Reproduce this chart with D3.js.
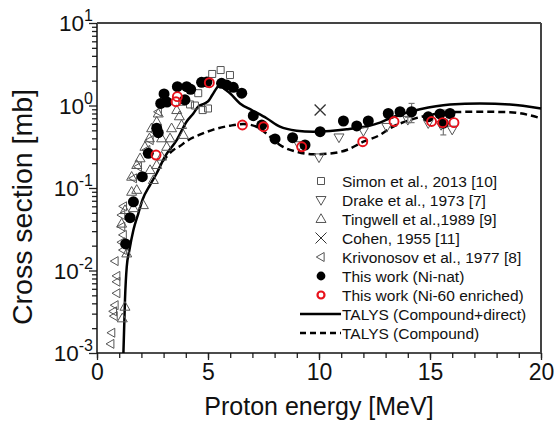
<!DOCTYPE html>
<html>
<head>
    <style>
        body { margin: 0; background: #fff; }
        svg { font-family: "Liberation Sans", Arial, sans-serif; }
    </style>
</head>
<body>
<script src="https://d3js.org/d3.v7.min.js"></script>
<svg width="554" height="423"></svg>
<script>
    // Simon et al., 2013 [10]
    var simonE = [3.84, 4.19, 4.41, 4.56, 4.76, 5.0, 5.19, 5.57, 5.99];
    var simonV = [1.11, 1.03, 1.0, 1.41, 0.88, 0.92, 2.41, 2.69, 2.34];
    // Drake et al., 1973 [7]
    var drakeE = [9.1, 10.0, 10.9, 12.0, 13.05, 14.0, 14.92, 15.5, 16.0];
    var drakeV = [0.33, 0.235, 0.41, 0.49, 0.55, 0.67, 0.61, 0.58, 0.51];
    // Tingwell et al., 1989 [9]
    var tingE = [1.11, 1.14, 1.26, 1.26, 1.34, 1.56, 1.56, 1.64, 1.79, 1.79, 1.94, 2.09, 2.16, 2.36, 2.39,
                 2.46, 2.54, 2.69, 2.69, 2.76, 2.91, 2.91, 3.14, 3.29, 3.36, 3.59, 3.71, 3.81, 3.89];
    var tingV = [0.037, 0.00263, 0.00364, 0.054, 0.0161, 0.09, 0.137, 0.057, 0.095, 0.19, 0.229, 0.062, 0.316, 0.40, 0.165,
                 0.53, 0.125, 0.636, 0.19, 0.80, 0.24, 0.40, 0.316, 0.40, 0.53, 0.88, 0.74, 0.58, 0.44];
    // Cohen, 1955 [11]
    var cohenE = [10.05];
    var cohenV = [0.88];
    // Krivonosov et al., 1977 [8]
    var krivE = [0.62, 0.66, 0.74, 0.77, 0.81, 0.81, 0.89, 0.89, 0.89, 1.11, 1.11, 1.11, 1.18, 1.18,
                 1.19, 1.64, 1.86, 2.24, 2.39, 2.61, 2.76];
    var krivV = [0.00129, 0.00176, 0.0032, 0.0028, 0.0038, 0.013, 0.0053, 0.0073, 0.0086, 0.022, 0.034, 0.047, 0.0177, 0.027,
                 0.06, 0.131, 0.181, 0.289, 0.38, 0.48, 0.84];
    // This work (Ni-nat)
    var natE = [1.29, 1.49, 1.64, 2.04, 2.31, 2.69, 2.76, 2.87, 3.02, 3.15, 3.62, 3.96, 4.04, 4.22, 4.71, 4.95,
                5.61, 5.84, 6.14, 6.52, 7.04, 7.42, 8.02, 8.81, 9.37, 10.05, 11.1, 11.7, 12.22, 13.12, 13.65,
                14.17, 14.92, 15.45, 15.6, 15.9];
    var natV = [0.021, 0.0437, 0.068, 0.137, 0.263, 0.53, 0.468, 1.06, 1.38, 1.1, 1.69, 1.17, 1.69, 1.57, 1.91, 1.93,
                1.86, 1.77, 1.66, 1.41, 0.752, 0.58, 0.393, 0.407, 0.332, 0.481, 0.649, 0.565, 0.649, 0.80, 0.84,
                0.84, 0.73, 0.79, 0.61, 0.80];
    // error bars shown on a few points
    var errE = [14.17, 15.6, 14.0];
    var errLo = [0.62, 0.44, 0.62];
    var errHi = [1.06, 0.88, 0.72];
    // This work (Ni-60 enriched)
    var redE = [2.66, 3.56, 3.62, 5.06, 6.55, 7.5, 9.22, 11.97, 13.38, 15.07, 15.57, 16.08];
    var redV = [0.251, 1.11, 1.28, 1.89, 0.58, 0.553, 0.316, 0.364, 0.64, 0.64, 0.62, 0.62];
    // TALYS (Compound+direct)
    var solidE = [1.19, 1.26, 1.34, 1.46, 1.64, 1.86, 2.05, 2.4, 2.69, 3.06, 3.59, 4.04, 4.34, 4.56, 4.86, 5.0,
                  5.2, 5.5, 5.55, 5.7, 5.99, 6.44, 6.97, 7.64, 8.24, 8.99, 9.74, 10.5, 11.25, 12.15, 12.75, 13.2,
                  14.55, 15.9, 17.25, 18.6, 20];
    var solidV = [0.001, 0.0044, 0.0111, 0.0177, 0.031, 0.049, 0.072, 0.11, 0.151, 0.24, 0.38, 0.64, 0.80, 0.97, 1.06, 1.12,
                  1.35, 1.76, 1.79, 1.62, 1.41, 1.06, 0.88, 0.70, 0.553, 0.495, 0.481, 0.49, 0.514, 0.56, 0.62, 0.70,
                  0.90, 1.03, 1.06, 1.03, 0.92];
    // TALYS (Compound)
    var dashE = [2.95, 3.44, 3.74, 4.04, 4.6, 5.24, 5.99, 6.59, 7.19, 7.79, 8.24, 9.0, 9.74, 10.5, 11.25, 12.0,
                 12.75, 13.2, 14.1, 15.0, 15.9, 17.25, 18.6, 20];
    var dashV = [0.21, 0.289, 0.323, 0.37, 0.44, 0.51, 0.569, 0.597, 0.553, 0.42, 0.332, 0.275, 0.256, 0.262, 0.289, 0.364,
                 0.44, 0.53, 0.667, 0.77, 0.83, 0.84, 0.83, 0.70];

    var xMajor = [0, 5, 10, 15, 20];
    var yMajor = [1e-3, 1e-2, 1e-1, 1, 10];
    var yExp = ["-3", "-2", "-1", "0", "1"];

    var legendLabels = ["Simon et al., 2013 [10]", "Drake et al., 1973 [7]", "Tingwell et al.,1989 [9]",
        "Cohen, 1955 [11]", "Krivonosov et al., 1977 [8]", "This work (Ni-nat)", "This work (Ni-60 enriched)",
        "TALYS (Compound+direct)", "TALYS (Compound)"];

    var svg = d3.select("svg");
    var plotL = 97, plotR = 541, plotT = 23, plotB = 353;
    var gray = "#555";

    var x = d3.scaleLinear().domain([0, 20]).range([plotL, plotR]);
    var y = d3.scaleLog().domain([1e-3, 10]).range([plotB, plotT]);

    // axes
    var minorY = [];
    yMajor.slice(0, 4).forEach(function(d) {
        for (var k = 2; k <= 9; k++) minorY.push(d * k);
    });

    svg.append("g").attr("transform", "translate(0," + plotB + ")")
        .call(d3.axisBottom(x).tickValues(d3.range(0, 21)).tickSize(5).tickFormat(""))
        .call(function(g) { g.select(".domain").remove(); });
    svg.append("g").attr("transform", "translate(0," + plotB + ")")
        .call(d3.axisBottom(x).tickValues(xMajor).tickSize(7).tickPadding(4).tickFormat(d3.format("d")))
        .call(function(g) {
            g.select(".domain").remove();
            g.selectAll("text").attr("font-size", 23).attr("fill", "#111")
                .attr("font-family", "Liberation Sans, Arial, sans-serif");
        });

    svg.append("g").attr("transform", "translate(" + plotL + ",0)")
        .call(d3.axisLeft(y).tickValues(minorY).tickSize(5).tickFormat(""))
        .call(function(g) { g.select(".domain").remove(); });
    svg.append("g").attr("transform", "translate(" + plotL + ",0)")
        .call(d3.axisLeft(y).tickValues(yMajor).tickSize(8).tickFormat(""))
        .call(function(g) { g.select(".domain").remove(); });

    svg.selectAll("g.tick line").attr("stroke", "#222").attr("stroke-width", 1.3);

    var ylab = svg.append("g").selectAll("text").data(yMajor).enter().append("text")
        .attr("x", 93).attr("y", function(d) { return y(d) + 8; })
        .attr("text-anchor", "end").attr("fill", "#111");
    ylab.append("tspan").attr("font-size", 22.5).text("10");
    ylab.append("tspan").attr("font-size", 16).attr("dy", -10)
        .text(function(d, i) { return yExp[i]; });

    // frame
    svg.append("line").attr("x1", plotL).attr("x2", plotL).attr("y1", plotT).attr("y2", plotB)
        .attr("stroke", "#111").attr("stroke-width", 1.5);
    svg.append("line").attr("x1", plotL).attr("x2", plotR).attr("y1", plotB).attr("y2", plotB)
        .attr("stroke", "#111").attr("stroke-width", 1.5);
    svg.append("line").attr("x1", plotL).attr("x2", plotR).attr("y1", plotT).attr("y2", plotT)
        .attr("stroke", "#444").attr("stroke-width", 2);
    svg.append("line").attr("x1", plotR).attr("x2", plotR).attr("y1", plotT).attr("y2", plotB)
        .attr("stroke", "#444").attr("stroke-width", 2);

    // axis titles
    svg.append("text").attr("x", (plotL + plotR) / 2).attr("y", 415)
        .attr("text-anchor", "middle").attr("font-size", 25).attr("fill", "#111")
        .text("Proton energy [MeV]");
    svg.append("text").attr("transform", "translate(32,207) rotate(-90)")
        .attr("text-anchor", "middle").attr("font-size", 28.5).attr("fill", "#111")
        .text("Cross section [mb]");

    // curves
    function pairs(xs, ys) { return xs.map(function(d, i) { return [d, ys[i]]; }); }
    var line = d3.line().x(function(d) { return x(d[0]); }).y(function(d) { return y(d[1]); })
        .curve(d3.curveMonotoneX);

    svg.append("path").datum(pairs(dashE, dashV)).attr("d", line)
        .attr("fill", "none").attr("stroke", "#000").attr("stroke-width", 2.5)
        .attr("stroke-dasharray", "7,4");
    svg.append("path").datum(pairs(solidE, solidV)).attr("d", line)
        .attr("fill", "none").attr("stroke", "#000").attr("stroke-width", 2.5);

    // symbol shapes
    function tri(dir, s) {
        var h = s * 0.87;
        if (dir === "up") return "M0," + (-h * 0.6) + "L" + (s / 2) + "," + (h * 0.4) + "L" + (-s / 2) + "," + (h * 0.4) + "Z";
        if (dir === "down") return "M0," + (h * 0.6) + "L" + (s / 2) + "," + (-h * 0.4) + "L" + (-s / 2) + "," + (-h * 0.4) + "Z";
        return "M" + (-h * 0.6) + ",0L" + (h * 0.4) + "," + (-s / 2) + "L" + (h * 0.4) + "," + (s / 2) + "Z";
    }
    function square(s) { return "M" + (-s / 2) + "," + (-s / 2) + "h" + s + "v" + s + "h" + (-s) + "Z"; }
    function cross(s) { return "M" + (-s / 2) + "," + (-s / 2) + "L" + (s / 2) + "," + (s / 2) + "M" + (s / 2) + "," + (-s / 2) + "L" + (-s / 2) + "," + (s / 2); }

    function scatter(xs, ys, shape) {
        return svg.append("g").selectAll("path").data(pairs(xs, ys)).enter().append("path")
            .attr("transform", function(d) { return "translate(" + x(d[0]) + "," + y(d[1]) + ")"; })
            .attr("d", shape).attr("fill", "none").attr("stroke", gray).attr("stroke-width", 1);
    }

    scatter(krivE, krivV, tri("left", 9));
    scatter(tingE, tingV, tri("up", 10));
    scatter(drakeE, drakeV, tri("down", 10));
    scatter(simonE, simonV, square(7));
    scatter(cohenE, cohenV, cross(11)).attr("stroke", "#333").attr("stroke-width", 1.3);

    // error bars
    var eb = svg.append("g").selectAll("g").data(errE).enter().append("g").attr("stroke", "#777").attr("stroke-width", 1.2);
    eb.append("line").attr("x1", function(d) { return x(d); }).attr("x2", function(d) { return x(d); })
        .attr("y1", function(d, i) { return y(errLo[i]); }).attr("y2", function(d, i) { return y(errHi[i]); });
    eb.append("line").attr("x1", function(d) { return x(d) - 3; }).attr("x2", function(d) { return x(d) + 3; })
        .attr("y1", function(d, i) { return y(errLo[i]); }).attr("y2", function(d, i) { return y(errLo[i]); });
    eb.append("line").attr("x1", function(d) { return x(d) - 3; }).attr("x2", function(d) { return x(d) + 3; })
        .attr("y1", function(d, i) { return y(errHi[i]); }).attr("y2", function(d, i) { return y(errHi[i]); });

    svg.append("g").selectAll("circle").data(pairs(natE, natV)).enter().append("circle")
        .attr("cx", function(d) { return x(d[0]); }).attr("cy", function(d) { return y(d[1]); })
        .attr("r", 5.5).attr("fill", "#000");

    svg.append("g").selectAll("circle").data(pairs(redE, redV)).enter().append("circle")
        .attr("cx", function(d) { return x(d[0]); }).attr("cy", function(d) { return y(d[1]); })
        .attr("r", 4.5).attr("fill", "none").attr("stroke", "#e8121c").attr("stroke-width", 1.9);

    // legend
    var lg = svg.append("g");
    var ly = function(i) { return 181 + i * 19; };
    var symX = 321;
    var shapes = [square(7), tri("down", 10), tri("up", 10), cross(11), tri("left", 9)];
    shapes.forEach(function(s, i) {
        lg.append("path").attr("transform", "translate(" + symX + "," + ly(i) + ")").attr("d", s)
            .attr("fill", "none").attr("stroke", i === 3 ? "#333" : gray).attr("stroke-width", 1);
    });
    lg.append("circle").attr("cx", symX).attr("cy", ly(5)).attr("r", 4.4).attr("fill", "#000");
    lg.append("circle").attr("cx", symX).attr("cy", ly(6)).attr("r", 3.5).attr("fill", "none")
        .attr("stroke", "#e8121c").attr("stroke-width", 2.2);
    lg.append("line").attr("x1", 300).attr("x2", 341).attr("y1", ly(7)).attr("y2", ly(7))
        .attr("stroke", "#000").attr("stroke-width", 2.5);
    lg.append("line").attr("x1", 300).attr("x2", 341).attr("y1", ly(8)).attr("y2", ly(8))
        .attr("stroke", "#000").attr("stroke-width", 2.5).attr("stroke-dasharray", "6,4");
    lg.selectAll("text").data(legendLabels).enter().append("text")
        .attr("x", 342).attr("y", function(d, i) { return ly(i) + 5.5; })
        .attr("font-size", 15.5).attr("fill", "#111")
        .text(function(d) { return d; });
</script>
</body>
</html>
